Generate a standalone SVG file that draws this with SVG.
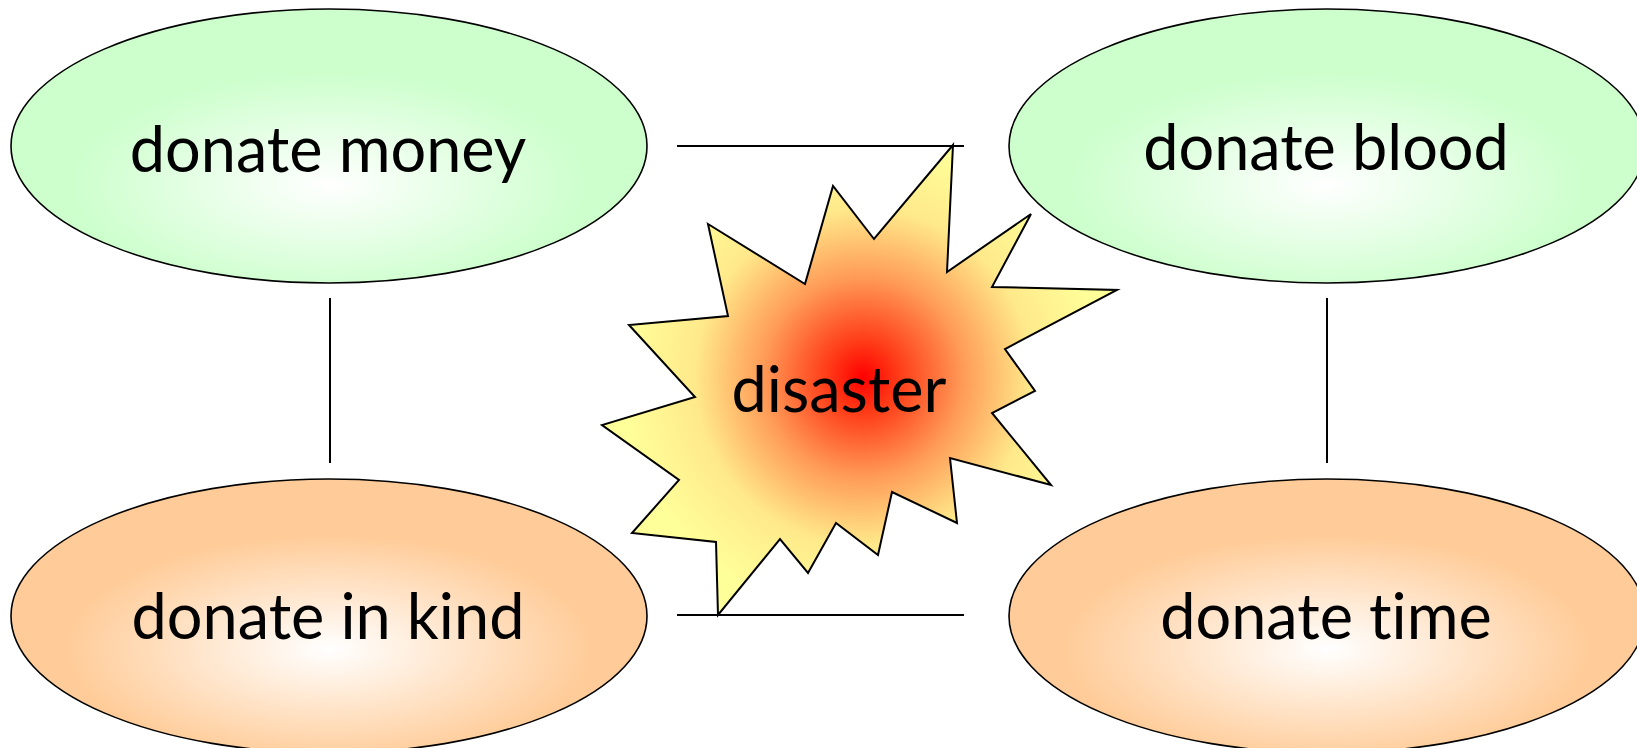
<svg xmlns="http://www.w3.org/2000/svg" width="1637" height="748" viewBox="0 0 1637 748">
  <defs>
    <radialGradient id="gGreen" cx="0.5" cy="0.64" r="0.55">
      <stop offset="0" stop-color="#ffffff"/>
      <stop offset="0.75" stop-color="#ccffcc"/>
      <stop offset="1" stop-color="#ccffcc"/>
    </radialGradient>
    <radialGradient id="gOrange" cx="0.5" cy="0.62" r="0.55">
      <stop offset="0" stop-color="#ffffff"/>
      <stop offset="0.75" stop-color="#ffcc99"/>
      <stop offset="1" stop-color="#ffcc99"/>
    </radialGradient>
    <radialGradient id="gStar" gradientUnits="userSpaceOnUse" cx="863" cy="377" r="240">
      <stop offset="0" stop-color="#ff0000"/>
      <stop offset="0.15" stop-color="#ff3c18"/>
      <stop offset="0.42" stop-color="#ff9c58"/>
      <stop offset="0.7" stop-color="#ffe98a"/>
      <stop offset="1" stop-color="#ffff99"/>
    </radialGradient>
  </defs>
  <style>
    .node ellipse { stroke: #000; stroke-width: 1.6; }
    .label { font-family: Lato, "Liberation Sans", sans-serif; font-size: 63px; fill: #000; text-anchor: middle; font-variant-ligatures: none; font-feature-settings: "liga" 0; }
    .conn line { stroke: #000; stroke-width: 2; }
    .star { stroke: #000; stroke-width: 2; stroke-linejoin: miter; fill: url(#gStar); }
  </style>
  <rect width="1637" height="748" fill="#ffffff"/>

  <g id="node-money" class="node">
    <ellipse cx="329" cy="146" rx="318" ry="137" fill="url(#gGreen)"/>
    <text class="label" x="328" y="172">donate money</text>
  </g>
  <g id="node-blood" class="node">
    <ellipse cx="1327" cy="146" rx="318" ry="137" fill="url(#gGreen)"/>
    <text class="label" x="1326" y="170">donate blood</text>
  </g>
  <g id="node-kind" class="node">
    <ellipse cx="329" cy="616" rx="318" ry="137" fill="url(#gOrange)"/>
    <text class="label" x="328" y="639">donate in kind</text>
  </g>
  <g id="node-time" class="node">
    <ellipse cx="1327" cy="616" rx="318" ry="137" fill="url(#gOrange)"/>
    <text class="label" x="1326" y="639">donate time</text>
  </g>

  <g id="connectors" class="conn">
    <line x1="677" y1="146" x2="964" y2="146"/>
    <line x1="677" y1="615" x2="964" y2="615"/>
    <line x1="330" y1="298" x2="330" y2="463"/>
    <line x1="1327" y1="298" x2="1327" y2="463"/>
  </g>

  <g id="node-disaster">
    <polygon class="star" points="953,145 947,272 1031,214 992,287 1117,290 1005,349 1035,391 992,413 1051,485 950,458 957,523 892,492 878,555 836,523 808,573 780,539 718,615 716,542 632,533 679,480 602,425 695,397 629,325 728,316 708,224 805,284 833,186 874,239"/>
    <text class="label" x="839" y="412">disaster</text>
  </g>
</svg>
